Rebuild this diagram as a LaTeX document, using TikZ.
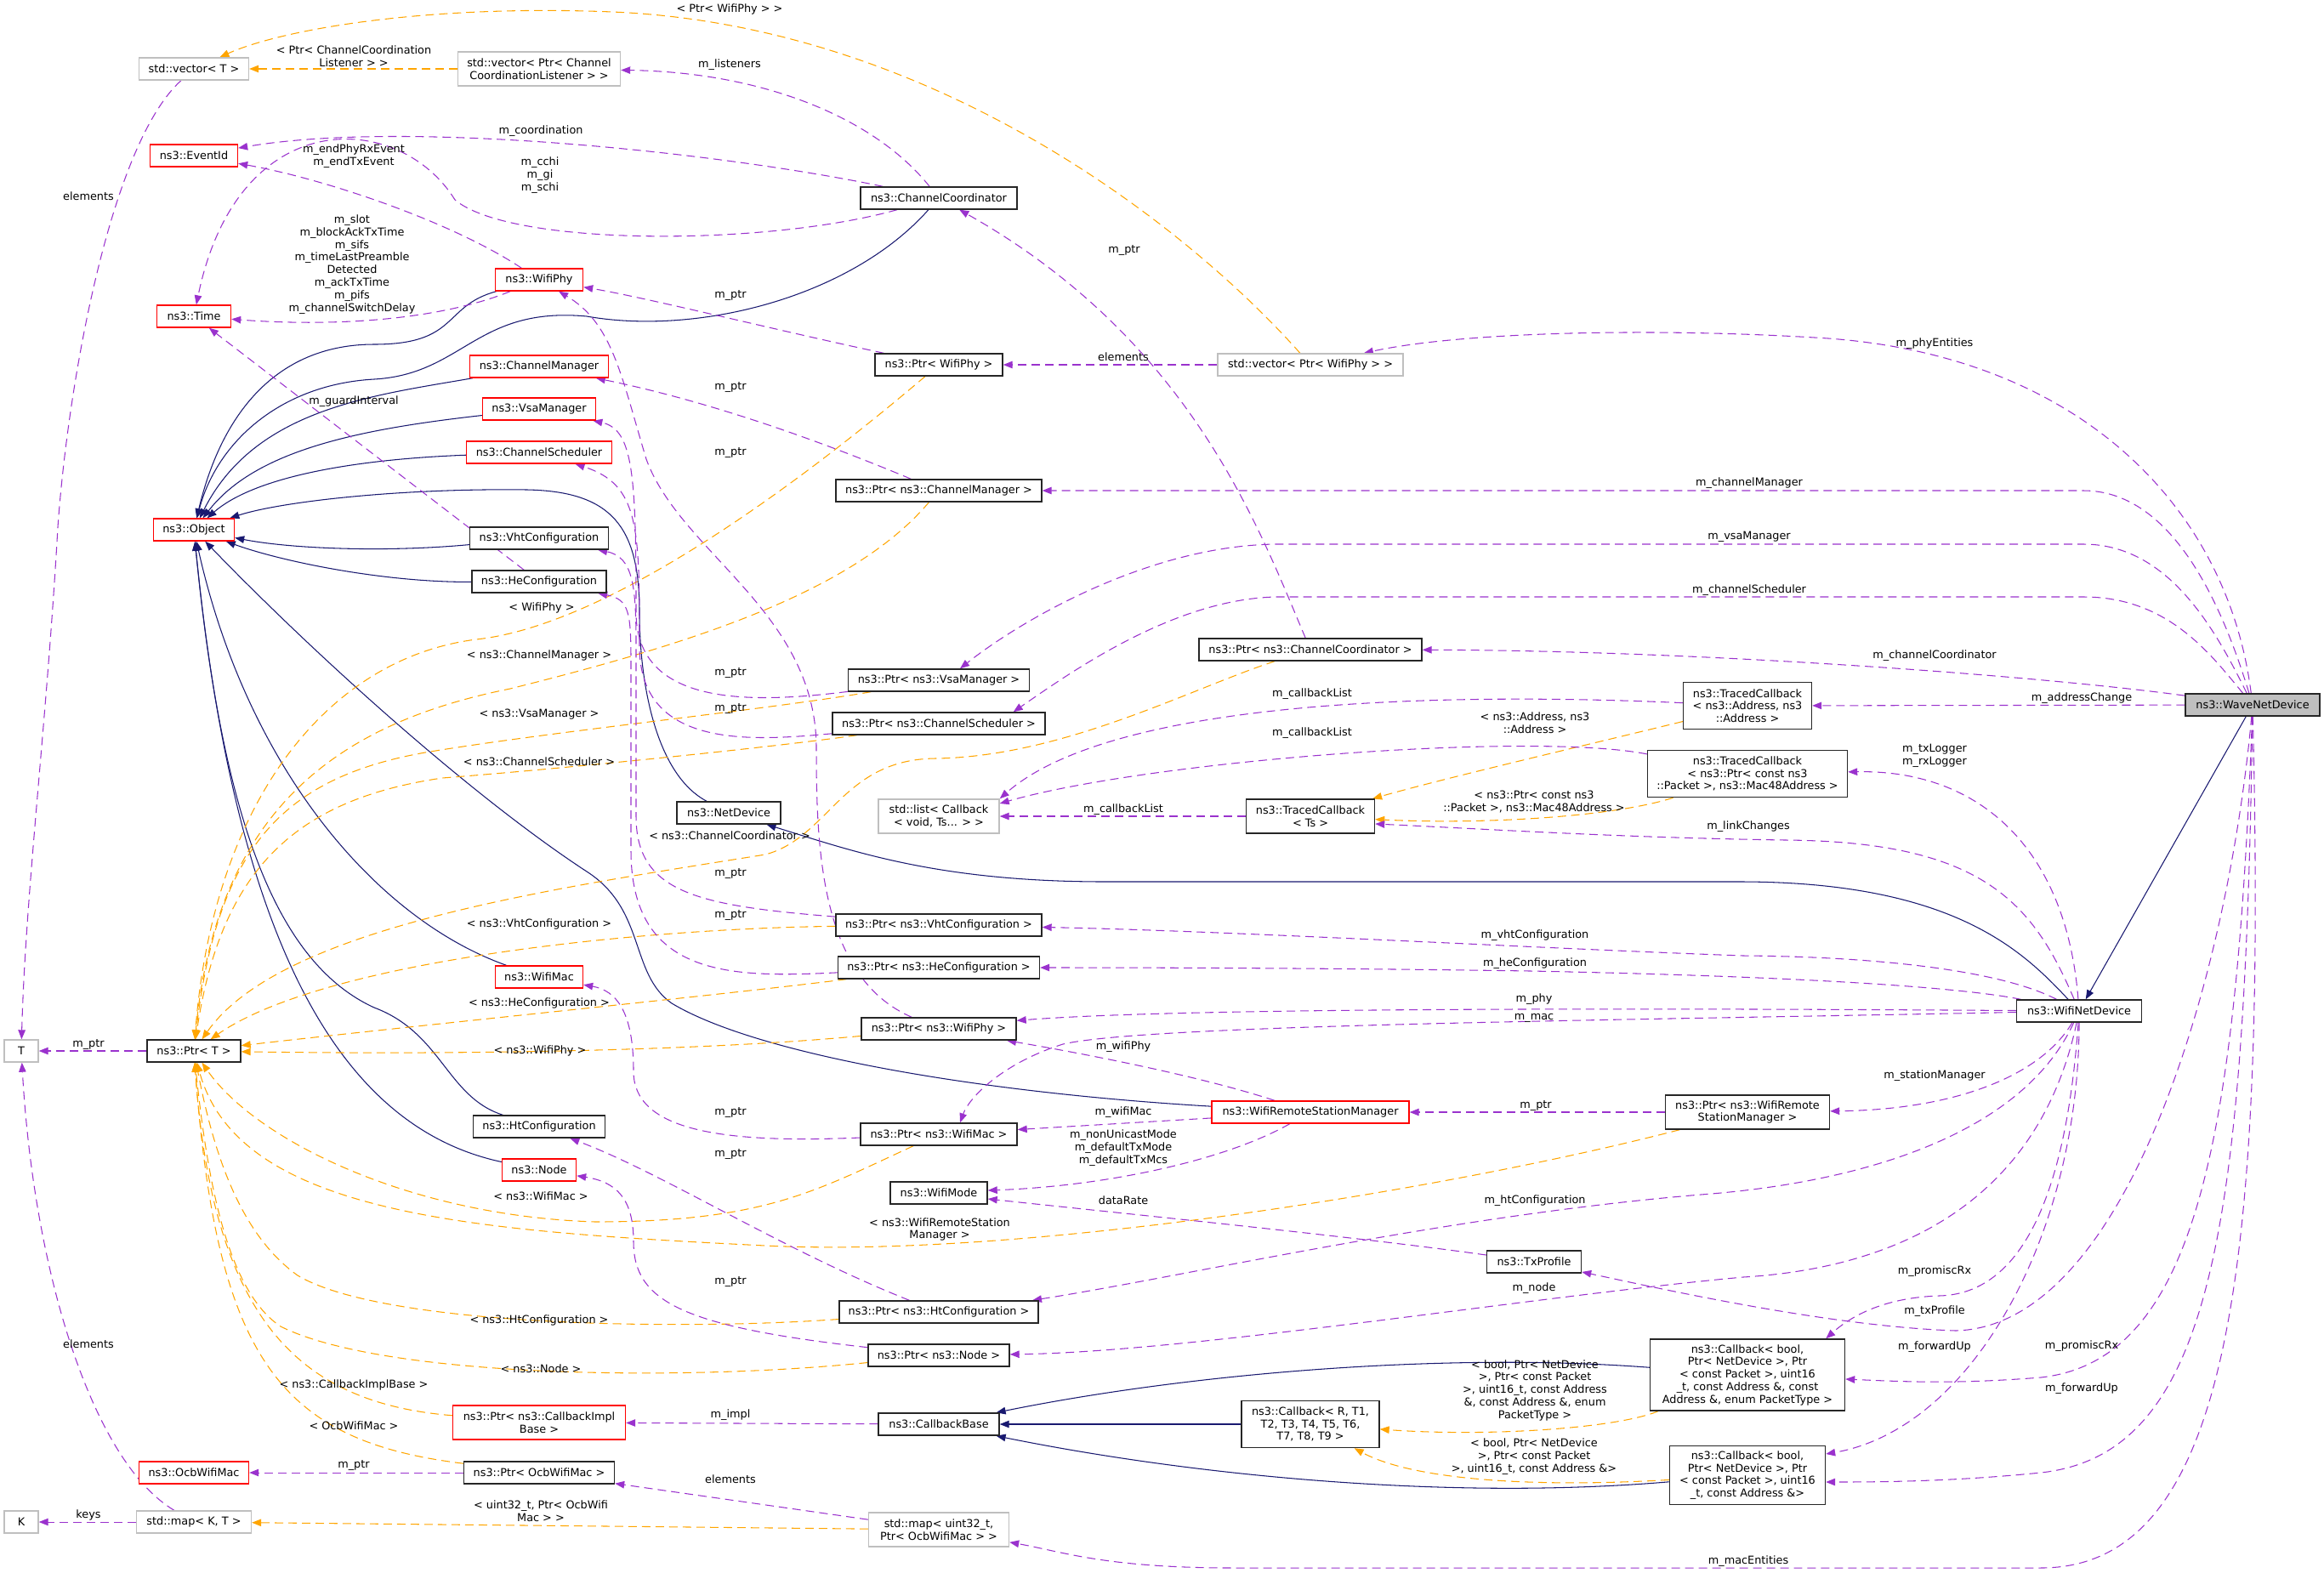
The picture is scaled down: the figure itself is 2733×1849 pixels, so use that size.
\documentclass[tikz,border=0pt]{standalone}
\usepackage{fontspec}
\setmainfont{DejaVu Sans}
\usetikzlibrary{arrows.meta}
\definecolor{mynavy}{HTML}{191970}
\definecolor{purp}{HTML}{9A32CD}
\definecolor{orng}{HTML}{FFA500}
\definecolor{lgray}{HTML}{BFBFBF}
\pgfdeclarelayer{edgelayer}
\pgfsetlayers{edgelayer,main}
\begin{document}
\begin{tikzpicture}[x=0.02cm,y=-0.02cm,
  every node/.append style={font=\fontsize{7.3}{8.4}\selectfont},
  bx/.style={draw=black!85, line width=0.8pt, fill=white, inner sep=0pt, align=center, minimum height=0.52cm},
  bred/.style={bx, draw=red},
  bgray/.style={bx, draw=lgray},
  bsel/.style={bx, fill=lgray},
  lbl/.style={inner sep=0pt, align=center},
  tip/.style={-{Triangle[length=0.22cm,width=0.17cm]}},
  eInh/.style={tip, draw=mynavy, line width=0.6pt},
  eUse/.style={tip, draw=purp, line width=0.6pt, dash pattern=on 0.2cm off 0.12cm},
  eTpl/.style={tip, draw=orng, line width=0.6pt, dash pattern=on 0.2cm off 0.12cm}]
\useasboundingbox (0,0) rectangle (2733,1849);

% ---------------- nodes ----------------
\node[bgray, minimum width=2.58cm] (vecT) at (228,81) {std::vector< T >};
\node[bgray, minimum width=3.82cm, minimum height=0.80cm] (vecCCL) at (634,81) {std::vector< Ptr< Channel\\CoordinationListener > >};
\node[bred, minimum width=2.06cm] (eventid) at (228,183) {ns3::EventId};
\node[bred, minimum width=1.74cm] (time) at (228,372) {ns3::Time};
\node[bred, minimum width=2.06cm] (wifiphy) at (634,329) {ns3::WifiPhy};
\node[bred, minimum width=3.26cm] (chmgr) at (634,431) {ns3::ChannelManager};
\node[bred, minimum width=2.66cm] (vsa) at (634,481) {ns3::VsaManager};
\node[bred, minimum width=3.42cm] (chsched) at (634,532) {ns3::ChannelScheduler};
\node[bred, minimum width=1.90cm] (object) at (228,623) {ns3::Object};
\node[bx, minimum width=3.26cm] (vht) at (634,633) {ns3::VhtConfiguration};
\node[bx, minimum width=3.16cm] (he) at (634,684) {ns3::HeConfiguration};
\node[bred, minimum width=2.06cm] (wifimac) at (634,1149) {ns3::WifiMac};
\node[bgray, minimum width=0.80cm] (T) at (25,1236) {T};
\node[bx, minimum width=2.20cm] (ptrT) at (228,1236) {ns3::Ptr< T >};
\node[bx, minimum width=3.10cm] (htconf) at (634,1325) {ns3::HtConfiguration};
\node[bred, minimum width=1.74cm] (nsnode) at (634,1376) {ns3::Node};
\node[bred, minimum width=4.06cm, minimum height=0.80cm] (pcib) at (634,1673) {ns3::Ptr< ns3::CallbackImpl\\Base >};
\node[bred, minimum width=2.58cm] (ocb) at (228,1732) {ns3::OcbWifiMac};
\node[bx, minimum width=3.54cm] (pocb) at (634,1732) {ns3::Ptr< OcbWifiMac >};
\node[bgray, minimum width=0.80cm] (K) at (25,1790) {K};
\node[bgray, minimum width=2.70cm] (mapKT) at (228,1790) {std::map< K, T >};
\node[bx, minimum width=3.68cm] (chcoord) at (1104,233) {ns3::ChannelCoordinator};
\node[bx, minimum width=3.00cm] (pwifiphy) at (1104,429) {ns3::Ptr< WifiPhy >};
\node[bx, minimum width=4.84cm] (pchmgr) at (1104,577) {ns3::Ptr< ns3::ChannelManager >};
\node[bx, minimum width=4.26cm] (pvsa) at (1104,800) {ns3::Ptr< ns3::VsaManager >};
\node[bx, minimum width=5.00cm] (pchsched) at (1104,851) {ns3::Ptr< ns3::ChannelScheduler >};
\node[bx, minimum width=2.44cm] (netdev) at (857,956) {ns3::NetDevice};
\node[bgray, minimum width=2.84cm, minimum height=0.80cm] (stdlist) at (1104,960) {std::list< Callback\\< void, Ts... > >};
\node[bx, minimum width=4.84cm] (pvht) at (1104,1088) {ns3::Ptr< ns3::VhtConfiguration >};
\node[bx, minimum width=4.74cm] (phe) at (1104,1138) {ns3::Ptr< ns3::HeConfiguration >};
\node[bx, minimum width=3.64cm] (pnswifiphy) at (1104,1210) {ns3::Ptr< ns3::WifiPhy >};
\node[bx, minimum width=3.68cm] (pwifimac) at (1104,1334) {ns3::Ptr< ns3::WifiMac >};
\node[bx, minimum width=2.28cm] (wifimode) at (1104,1403) {ns3::WifiMode};
\node[bx, minimum width=4.68cm] (phtconf) at (1104,1543) {ns3::Ptr< ns3::HtConfiguration >};
\node[bx, minimum width=3.32cm] (pnode) at (1104,1594) {ns3::Ptr< ns3::Node >};
\node[bx, minimum width=2.84cm] (cbbase) at (1104,1675) {ns3::CallbackBase};
\node[bgray, minimum width=3.30cm, minimum height=0.80cm] (mapocb) at (1104,1799) {std::map< uint32\_t,\\Ptr< OcbWifiMac > >};
\node[bgray, minimum width=4.36cm] (vecwifiphy) at (1541,429) {std::vector< Ptr< WifiPhy > >};
\node[bx, minimum width=5.24cm] (pchcoord) at (1541,764) {ns3::Ptr< ns3::ChannelCoordinator >};
\node[bx, minimum width=3.02cm, minimum height=0.80cm] (tcts) at (1541,960) {ns3::TracedCallback\\< Ts >};
\node[bred, minimum width=4.64cm] (wrsm) at (1541,1308) {ns3::WifiRemoteStationManager};
\node[bx, minimum width=3.24cm, minimum height=1.10cm] (cbR) at (1541,1675) {ns3::Callback< R, T1,\\T2, T3, T4, T5, T6,\\T7, T8, T9 >};
\node[bx, minimum width=3.02cm, minimum height=1.10cm] (tcaa) at (2055,830) {ns3::TracedCallback\\< ns3::Address, ns3\\::Address >};
\node[bx, minimum width=4.70cm, minimum height=1.10cm] (tcpm) at (2055,910) {ns3::TracedCallback\\< ns3::Ptr< const ns3\\::Packet >, ns3::Mac48Address >};
\node[bx, minimum width=2.22cm] (txprofile) at (1804,1484) {ns3::TxProfile};
\node[bx, minimum width=3.86cm, minimum height=0.80cm] (pwrsm) at (2055,1308) {ns3::Ptr< ns3::WifiRemote\\StationManager >};
\node[bx, minimum width=4.58cm, minimum height=1.68cm] (cbPT) at (2055,1617) {ns3::Callback< bool,\\Ptr< NetDevice >, Ptr\\< const Packet >, uint16\\\_t, const Address \&, const\\Address \&, enum PacketType >};
\node[bx, minimum width=3.66cm, minimum height=1.38cm] (cbAA) at (2055,1735) {ns3::Callback< bool,\\Ptr< NetDevice >, Ptr\\< const Packet >, uint16\\\_t, const Address \&>};
\node[bsel, minimum width=3.16cm] (wave) at (2649,829) {ns3::WaveNetDevice};
\node[bx, minimum width=2.94cm] (wifinet) at (2445,1189) {ns3::WifiNetDevice};

\begin{pgfonlayer}{edgelayer}
% ---------------- inheritance ----------------
\draw[eInh] (wifiphy) .. controls (520,360) and (540,405) .. (440,405) .. controls (330,405) and (262,480) .. (object);
\draw[eInh] (chcoord) .. controls (1000,350) and (820,395) .. (690,372) .. controls (560,360) and (545,440) .. (440,446) .. controls (330,452) and (255,520) .. (object);
\draw[eInh] (chmgr) .. controls (440,465) and (300,480) .. (object);
\draw[eInh] (vsa) .. controls (420,505) and (300,530) .. (object);
\draw[eInh] (chsched) .. controls (420,540) and (300,560) .. (object);
\draw[eInh] (netdev) .. controls (770,910) and (752,800) .. (752,720) .. controls (752,620) and (720,578) .. (620,576) .. controls (470,574) and (330,590) .. (object);
\draw[eInh] (vht) .. controls (450,650) and (340,645) .. (object);
\draw[eInh] (he) .. controls (450,685) and (330,660) .. (object);
\draw[eInh] (wifimac) .. controls (440,1080) and (290,900) .. (object);
\draw[eInh] (htconf) .. controls (525,1290) and (520,1215) .. (440,1185) .. controls (320,1130) and (260,950) .. (object);
\draw[eInh] (nsnode) .. controls (420,1330) and (280,1150) .. (object);
\draw[eInh] (wrsm) .. controls (1150,1285) and (890,1240) .. (790,1180) .. controls (740,1145) and (760,1070) .. (690,1025) .. controls (560,940) and (380,780) .. (object);
\draw[eInh] (wifinet) .. controls (2380,1120) and (2300,1038) .. (2050,1037) -- (1300,1037) .. controls (1100,1037) and (1000,1000) .. (netdev);
\draw[eInh] (wave) -- (wifinet);
\draw[eInh] (cbR) -- (cbbase);
\draw[eInh] (cbPT) .. controls (1700,1590) and (1400,1615) .. (cbbase);
\draw[eInh] (cbAA) .. controls (1700,1765) and (1400,1735) .. (cbbase);

% ---------------- template instances ----------------
\draw[eTpl] (vecCCL) -- (vecT);
\draw[eTpl] (vecwifiphy) .. controls (1400,270) and (1100,30) .. (720,14) .. controls (500,5) and (330,35) .. (vecT);
\draw[eTpl] (pwifiphy) .. controls (950,560) and (720,735) .. (560,752) .. controls (380,775) and (250,950) .. (ptrT);
\draw[eTpl] (pchmgr) .. controls (1000,700) and (800,760) .. (600,810) .. controls (400,850) and (255,950) .. (ptrT);
\draw[eTpl] (pvsa) .. controls (900,835) and (650,860) .. (500,885) .. controls (330,915) and (255,1000) .. (ptrT);
\draw[eTpl] (pchsched) .. controls (900,880) and (650,905) .. (520,915) .. controls (350,940) and (260,1020) .. (ptrT);
\draw[eTpl] (pchcoord) .. controls (1400,810) and (1250,890) .. (1100,892) .. controls (990,893) and (975,985) .. (900,1005) .. controls (650,1045) and (330,1090) .. (ptrT);
\draw[eTpl] (pvht) .. controls (750,1092) and (380,1130) .. (ptrT);
\draw[eTpl] (phe) .. controls (850,1170) and (500,1205) .. (ptrT);
\draw[eTpl] (pnswifiphy) .. controls (800,1238) and (500,1240) .. (ptrT);
\draw[eTpl] (pwifimac) .. controls (960,1400) and (900,1437) .. (700,1437) .. controls (480,1430) and (300,1340) .. (ptrT);
\draw[eTpl] (pwrsm) .. controls (1700,1400) and (1200,1480) .. (900,1465) .. controls (560,1448) and (280,1430) .. (ptrT);
\draw[eTpl] (phtconf) .. controls (800,1565) and (450,1560) .. (350,1500) .. controls (280,1450) and (250,1350) .. (ptrT);
\draw[eTpl] (pnode) .. controls (800,1625) and (450,1620) .. (330,1560) .. controls (270,1520) and (245,1400) .. (ptrT);
\draw[eTpl] (pcib) .. controls (350,1650) and (250,1550) .. (ptrT);
\draw[eTpl] (pocb) .. controls (330,1695) and (255,1600) .. (ptrT);
\draw[eTpl] (mapocb) -- (mapKT);
\draw[eTpl] (tcaa) .. controls (1850,880) and (1700,915) .. (tcts);
\draw[eTpl] (tcpm) .. controls (1900,960) and (1750,970) .. (tcts);
\draw[eTpl] (cbPT) .. controls (1900,1680) and (1750,1690) .. (cbR);
\draw[eTpl] (cbAA) .. controls (1800,1750) and (1660,1740) .. (cbR);

% ---------------- usage ----------------
\draw[eUse] (vecT) .. controls (130,170) and (80,450) .. (68,620) .. controls (55,850) and (30,1050) .. (T);
\draw[eUse] (ptrT) -- (T);
\draw[eUse] (mapKT) .. controls (110,1720) and (40,1500) .. (T);
\draw[eUse] (mapKT) -- (K);
\draw[eUse] (chcoord) .. controls (1030,140) and (900,85) .. (vecCCL);
\draw[eUse] (chcoord) .. controls (850,180) and (480,140) .. (eventid);
\draw[eUse] (wifiphy) .. controls (530,260) and (380,210) .. (eventid);
\draw[eUse] (chcoord) .. controls (900,290) and (600,290) .. (535,235) .. controls (470,130) and (280,120) .. (time);
\draw[eUse] (wifiphy) .. controls (520,375) and (400,385) .. (time);
\draw[eUse] (he) -- (time);
\draw[eUse] (pwifiphy) .. controls (920,390) and (760,350) .. (wifiphy);
\draw[eUse] (pnswifiphy) .. controls (965,1150) and (960,1000) .. (960,880) .. controls (960,720) and (800,650) .. (760,540) .. controls (730,440) and (720,380) .. (wifiphy);
\draw[eUse] (pchmgr) .. controls (920,500) and (800,465) .. (chmgr);
\draw[eUse] (pvsa) .. controls (880,828) and (748,830) .. (748,720) .. controls (748,560) and (745,505) .. (vsa);
\draw[eUse] (pchsched) .. controls (880,872) and (752,880) .. (752,760) .. controls (752,620) and (752,570) .. (chsched);
\draw[eUse] (pchcoord) .. controls (1480,620) and (1400,400) .. (chcoord);
\draw[eUse] (vecwifiphy) -- (pwifiphy);
\draw[eUse] (wave) .. controls (2620,600) and (2450,420) .. (2150,398) .. controls (1950,385) and (1720,390) .. (vecwifiphy);
\draw[eUse] (wave) .. controls (2610,700) and (2550,577) .. (2450,577) -- (pchmgr);
\draw[eUse] (wave) .. controls (2605,740) and (2550,640) .. (2450,640) -- (1500,640) .. controls (1350,642) and (1200,730) .. ([xshift=0.5cm]pvsa.north);
\draw[eUse] (wave) .. controls (2600,770) and (2550,702) .. (2450,702) -- (1500,702) .. controls (1380,705) and (1260,790) .. ([xshift=-0.76cm]pchsched.north east);
\draw[eUse] (wave) .. controls (2400,795) and (2000,765) .. (pchcoord);
\draw[eUse] (wave) -- (tcaa);
\draw[eUse] (tcaa) .. controls (1650,812) and (1300,830) .. (stdlist.north east);
\draw[eUse] (tcpm) .. controls (1800,860) and (1350,895) .. ([yshift=0.3cm]stdlist.east);
\draw[eUse] (tcts) -- (stdlist);
\draw[eUse] (wifinet) .. controls (2430,1000) and (2330,905) .. (tcpm);
\draw[eUse] (wifinet) .. controls (2390,1060) and (2330,990) .. (2100,988) .. controls (1900,985) and (1750,975) .. ([yshift=-0.18cm]tcts.east);
\draw[eUse] (wifinet) .. controls (2350,1140) and (2200,1125) .. (2050,1124) .. controls (1800,1115) and (1450,1095) .. (pvht);
\draw[eUse] (wifinet) .. controls (2300,1160) and (2100,1148) .. (1800,1142) .. controls (1600,1139) and (1400,1138) .. (phe);
\draw[eUse] (wifinet) .. controls (2000,1186) and (1400,1184) .. ([yshift=-0.08cm]pnswifiphy.north east);
\draw[eUse] (wifinet) .. controls (1900,1200) and (1350,1205) .. (1250,1228) .. controls (1180,1250) and (1140,1290) .. ([xshift=0.5cm]pwifimac.north);
\draw[eUse] (wrsm) .. controls (1400,1262) and (1250,1235) .. (pnswifiphy);
\draw[eUse] (wrsm) -- (pwifimac);
\draw[eUse] (wrsm) .. controls (1440,1365) and (1300,1395) .. ([yshift=0.06cm]wifimode.east);
\draw[eUse] (txprofile) .. controls (1600,1455) and (1300,1425) .. ([yshift=-0.14cm]wifimode.east);
\draw[eUse] (pwrsm) -- (wrsm);
\draw[eUse] (wifinet) .. controls (2400,1265) and (2300,1305) .. (pwrsm);
\draw[eUse] (wifinet) .. controls (2380,1330) and (2200,1390) .. (2000,1405) .. controls (1700,1430) and (1400,1500) .. ([xshift=2.2cm]phtconf.north);
\draw[eUse] (wifinet) .. controls (2400,1400) and (2250,1490) .. (2050,1502) .. controls (1800,1525) and (1400,1590) .. (pnode);
\draw[eUse] (wifinet) .. controls (2430,1400) and (2380,1522) .. (2280,1524) .. controls (2220,1526) and (2180,1545) .. ([xshift=-0.46cm]cbPT.north east);
\draw[eUse] (wave) .. controls (2620,1150) and (2500,1560) .. (2300,1565) .. controls (2150,1560) and (1950,1515) .. (txprofile);
\draw[eUse] (wifinet) .. controls (2445,1450) and (2320,1680) .. ([yshift=0.5cm]cbAA.east);
\draw[eUse] (wave) .. controls (2630,1350) and (2580,1600) .. (2400,1620) .. controls (2300,1628) and (2240,1625) .. (cbPT);
\draw[eUse] (wave) .. controls (2640,1450) and (2600,1710) .. (2400,1732) .. controls (2300,1742) and (2220,1743) .. ([yshift=-0.16cm]cbAA.east);
\draw[eUse] (wave) .. controls (2665,1500) and (2620,1844) .. (2400,1844) -- (1450,1844) .. controls (1300,1844) and (1250,1825) .. (mapocb);
\draw[eUse] (mapocb) -- (pocb);
\draw[eUse] (pocb) -- (ocb);
\draw[eUse] (cbbase) -- (pcib);
\draw[eUse] (pvht) .. controls (820,1065) and (748,1050) .. (748,960) -- (748,760) .. controls (748,690) and (745,655) .. (vht);
\draw[eUse] (phe) .. controls (860,1150) and (742,1150) .. (742,1000) -- (742,780) .. controls (742,720) and (740,705) .. (he);
\draw[eUse] (pwifimac) .. controls (850,1345) and (745,1330) .. (745,1260) .. controls (745,1190) and (725,1165) .. (wifimac);
\draw[eUse] (phtconf) .. controls (920,1470) and (780,1380) .. (htconf);
\draw[eUse] (pnode) .. controls (800,1560) and (745,1530) .. (745,1460) .. controls (745,1410) and (725,1390) .. (nsnode);
\end{pgfonlayer}

% ---------------- labels ----------------
\node[lbl] (l1) at (416,66) {< Ptr< ChannelCoordination\\Listener > >};
\node[lbl] (l2) at (858,11) {< Ptr< WifiPhy > >};
\node[lbl] (l3) at (858,76) {m\_listeners};
\node[lbl] (l4) at (636,154) {m\_coordination};
\node[lbl] (l5) at (416,184) {m\_endPhyRxEvent\\m\_endTxEvent};
\node[lbl] (l6) at (635,206) {m\_cchi\\m\_gi\\m\_schi};
\node[lbl] (l7) at (104,231) {elements};
\node[lbl] (l8) at (414,311) {m\_slot\\m\_blockAckTxTime\\m\_sifs\\m\_timeLastPreamble\\Detected\\m\_ackTxTime\\m\_pifs\\m\_channelSwitchDelay};
\node[lbl] (l9) at (416,472) {m\_guardInterval};
\node[lbl] (l10) at (1322,295) {m\_ptr};
\node[lbl] (l11) at (859,348) {m\_ptr};
\node[lbl] (l12) at (1321,420) {elements};
\node[lbl] (l13) at (859,456) {m\_ptr};
\node[lbl] (l14) at (859,533) {m\_ptr};
\node[lbl] (l15) at (2057,568) {m\_channelManager};
\node[lbl] (l16) at (2275,404) {m\_phyEntities};
\node[lbl] (l17) at (637,715) {< WifiPhy >};
\node[lbl] (l18) at (634,771) {< ns3::ChannelManager >};
\node[lbl] (l19) at (634,840) {< ns3::VsaManager >};
\node[lbl] (l20) at (634,896) {< ns3::ChannelScheduler >};
\node[lbl] (l21) at (634,1087) {< ns3::VhtConfiguration >};
\node[lbl] (l22) at (634,1180) {< ns3::HeConfiguration >};
\node[lbl] (l23) at (104,1228) {m\_ptr};
\node[lbl] (l24) at (635,1236) {< ns3::WifiPhy >};
\node[lbl] (l25) at (859,791) {m\_ptr};
\node[lbl] (l26) at (859,833) {m\_ptr};
\node[lbl] (l27) at (858,983) {< ns3::ChannelCoordinator >};
\node[lbl] (l28) at (1321,952) {m\_callbackList};
\node[lbl] (l29) at (859,1027) {m\_ptr};
\node[lbl] (l30) at (859,1076) {m\_ptr};
\node[lbl] (l31) at (1321,1231) {m\_wifiPhy};
\node[lbl] (l32) at (2057,631) {m\_vsaManager};
\node[lbl] (l33) at (2057,694) {m\_channelScheduler};
\node[lbl] (l34) at (1543,816) {m\_callbackList};
\node[lbl] (l35) at (1543,862) {m\_callbackList};
\node[lbl] (l36) at (1805,850) {< ns3::Address, ns3\\::Address >};
\node[lbl] (l37) at (1804,943) {< ns3::Ptr< const ns3\\::Packet >, ns3::Mac48Address >};
\node[lbl] (l38) at (2056,972) {m\_linkChanges};
\node[lbl] (l39) at (1805,1100) {m\_vhtConfiguration};
\node[lbl] (l40) at (1805,1133) {m\_heConfiguration};
\node[lbl] (l41) at (1804,1175) {m\_phy};
\node[lbl] (l42) at (1804,1197) {m\_mac};
\node[lbl] (l43) at (2275,771) {m\_channelCoordinator};
\node[lbl] (l44) at (2448,821) {m\_addressChange};
\node[lbl] (l45) at (2275,889) {m\_txLogger\\m\_rxLogger};
\node[lbl] (l46) at (636,1407) {< ns3::WifiMac >};
\node[lbl] (l47) at (634,1553) {< ns3::HtConfiguration >};
\node[lbl] (l48) at (636,1610) {< ns3::Node >};
\node[lbl] (l49) at (416,1629) {< ns3::CallbackImplBase >};
\node[lbl] (l50) at (416,1677) {< OcbWifiMac >};
\node[lbl] (l51) at (416,1723) {m\_ptr};
\node[lbl] (l52) at (104,1782) {keys};
\node[lbl] (l53) at (104,1581) {elements};
\node[lbl] (l54) at (636,1777) {< uint32\_t, Ptr< OcbWifi\\Mac > >};
\node[lbl] (l55) at (859,1308) {m\_ptr};
\node[lbl] (l56) at (1321,1308) {m\_wifiMac};
\node[lbl] (l57) at (859,1357) {m\_ptr};
\node[lbl] (l58) at (1321,1350) {m\_nonUnicastMode\\m\_defaultTxMode\\m\_defaultTxMcs};
\node[lbl] (l59) at (1321,1412) {dataRate};
\node[lbl] (l60) at (1105,1446) {< ns3::WifiRemoteStation\\Manager >};
\node[lbl] (l61) at (859,1507) {m\_ptr};
\node[lbl] (l62) at (859,1664) {m\_impl};
\node[lbl] (l63) at (859,1740) {elements};
\node[lbl] (l64) at (1806,1300) {m\_ptr};
\node[lbl] (l65) at (1805,1412) {m\_htConfiguration};
\node[lbl] (l66) at (1804,1515) {m\_node};
\node[lbl] (l67) at (1805,1635) {< bool, Ptr< NetDevice\\>, Ptr< const Packet\\>, uint16\_t, const Address\\\&, const Address \&, enum\\PacketType >};
\node[lbl] (l68) at (1804,1713) {< bool, Ptr< NetDevice\\>, Ptr< const Packet\\>, uint16\_t, const Address \&>};
\node[lbl] (l69) at (2056,1836) {m\_macEntities};
\node[lbl] (l70) at (2275,1265) {m\_stationManager};
\node[lbl] (l71) at (2275,1495) {m\_promiscRx};
\node[lbl] (l72) at (2275,1542) {m\_txProfile};
\node[lbl] (l73) at (2275,1584) {m\_forwardUp};
\node[lbl] (l74) at (2448,1583) {m\_promiscRx};
\node[lbl] (l75) at (2448,1633) {m\_forwardUp};
\end{tikzpicture}
\end{document}
